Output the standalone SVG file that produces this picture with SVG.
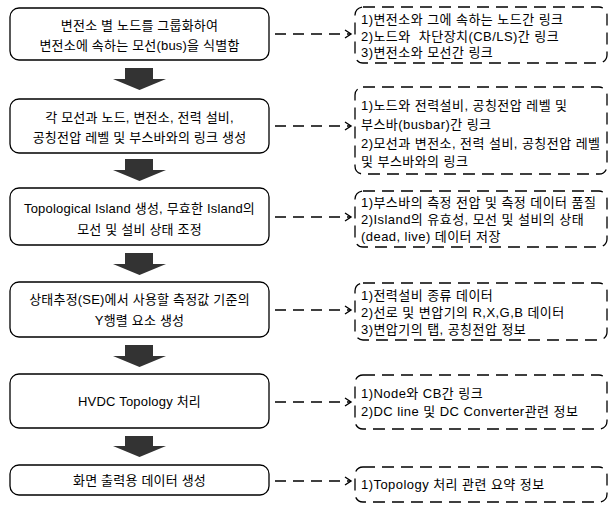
<svg xmlns="http://www.w3.org/2000/svg" width="611" height="506" viewBox="0 0 611 506">
<defs>
<style>
.box{fill:#fff;stroke:#000;stroke-width:1.3}
.note{fill:none;stroke:#000;stroke-width:1.3;stroke-dasharray:12 7}
.lt{font-family:"Liberation Sans","Noto Sans CJK KR",sans-serif;font-size:13px;fill:#000;text-anchor:middle;letter-spacing:0.2px}
.rt{font-family:"Liberation Sans","Noto Sans CJK KR",sans-serif;font-size:13px;fill:#000;letter-spacing:0.45px}
.dash{fill:none;stroke:#000;stroke-width:1.3;stroke-dasharray:11 7}
.big{fill:#333}
</style>
<marker id="open" markerWidth="10" markerHeight="10" refX="8" refY="5" orient="auto" markerUnits="userSpaceOnUse">
<path d="M2,1 L8,5 L2,9" fill="none" stroke="#000" stroke-width="1.4"/>
</marker>
</defs>
<rect width="611" height="506" fill="#fff"/>

<g id="step1">
<rect class="box" x="10" y="8" width="259" height="52" rx="9"/>
<text class="lt" x="139.5" y="30">변전소 별 노드를 그룹화하여</text>
<text class="lt" x="139.5" y="50">변전소에 속하는 모선(bus)을 식별함</text>
</g>
<g id="step2">
<rect class="box" x="10" y="99" width="259" height="54" rx="9"/>
<text class="lt" x="139.5" y="122">각 모선과 노드, 변전소, 전력 설비,</text>
<text class="lt" x="139.5" y="142">공칭전압 레벨 및 부스바와의 링크 생성</text>
</g>
<g id="step3">
<rect class="box" x="10" y="188" width="259" height="57" rx="9"/>
<text class="lt" x="139.5" y="213">Topological Island 생성, 무효한 Island의</text>
<text class="lt" x="139.5" y="234">모선 및 설비 상태 조정</text>
</g>
<g id="step4">
<rect class="box" x="10" y="282" width="259" height="55" rx="9"/>
<text class="lt" x="139.5" y="304">상태추정(SE)에서 사용할 측정값 기준의</text>
<text class="lt" x="139.5" y="325">Y행렬 요소 생성</text>
</g>
<g id="step5">
<rect class="box" x="10" y="374" width="259" height="54" rx="9"/>
<text class="lt" x="139.5" y="406">HVDC Topology 처리</text>
</g>
<g id="step6">
<rect class="box" x="10" y="465" width="259" height="30" rx="9"/>
<text class="lt" x="139.5" y="485">화면 출력용 데이터 생성</text>
</g>

<g id="note1">
<rect class="note" x="355" y="7" width="252" height="56" rx="8"/>
<text class="rt" x="361" y="24">1)변전소와 그에 속하는 노드간 링크</text>
<text class="rt" x="361" y="40.5" xml:space="preserve">2)노드와  차단장치(CB/LS)간 링크</text>
<text class="rt" x="361" y="57">3)변전소와 모선간 링크</text>
</g>
<g id="note2">
<rect class="note" x="355" y="87" width="252" height="87" rx="8"/>
<text class="rt" x="361" y="110">1)노드와 전력설비, 공칭전압 레벨 및</text>
<text class="rt" x="361" y="129">부스바(busbar)간 링크</text>
<text class="rt" x="361" y="148">2)모선과 변전소, 전력 설비, 공칭전압 레벨</text>
<text class="rt" x="361" y="166">및 부스바와의 링크</text>
</g>
<g id="note3">
<rect class="note" x="355" y="191" width="252" height="56" rx="8"/>
<text class="rt" x="361" y="207">1)부스바의 측정 전압 및 측정 데이터 품질</text>
<text class="rt" x="361" y="224">2)Island의 유효성, 모선 및 설비의 상태</text>
<text class="rt" x="361" y="241">(dead, live) 데이터 저장</text>
</g>
<g id="note4">
<rect class="note" x="355" y="283" width="252" height="57" rx="8"/>
<text class="rt" x="361" y="300">1)전력설비 종류 데이터</text>
<text class="rt" x="361" y="317">2)선로 및 변압기의 R,X,G,B 데이터</text>
<text class="rt" x="361" y="334">3)변압기의 탭, 공칭전압 정보</text>
</g>
<g id="note5">
<rect class="note" x="355" y="375" width="252" height="54" rx="8"/>
<text class="rt" x="361" y="398">1)Node와 CB간 링크</text>
<text class="rt" x="361" y="416">2)DC line 및 DC Converter관련 정보</text>
</g>
<g id="note6">
<rect class="note" x="355" y="467" width="252" height="35" rx="8"/>
<text class="rt" x="361" y="489">1)Topology 처리 관련 요약 정보</text>
</g>

<g id="connectors">
<polygon class="big" points="125,68 153,68 153,79 166,79 139.5,90 113,79 125,79"/>
<polygon class="big" points="125,159 153,159 153,170 166,170 139.5,181 113,170 125,170"/>
<polygon class="big" points="125,253 153,253 153,264 166,264 139.5,275 113,264 125,264"/>
<polygon class="big" points="125,345 153,345 153,356 166,356 139.5,367 113,356 125,356"/>
<polygon class="big" points="125,436 153,436 153,446 166,446 139.5,457 113,446 125,446"/>
<path class="dash" d="M275,34 H351" marker-end="url(#open)"/>
<path class="dash" d="M275,126 H351" marker-end="url(#open)"/>
<path class="dash" d="M275,217 H351" marker-end="url(#open)"/>
<path class="dash" d="M275,310 H351" marker-end="url(#open)"/>
<path class="dash" d="M275,402 H351" marker-end="url(#open)"/>
<path class="dash" d="M275,481 H351" marker-end="url(#open)"/>
</g>
</svg>
